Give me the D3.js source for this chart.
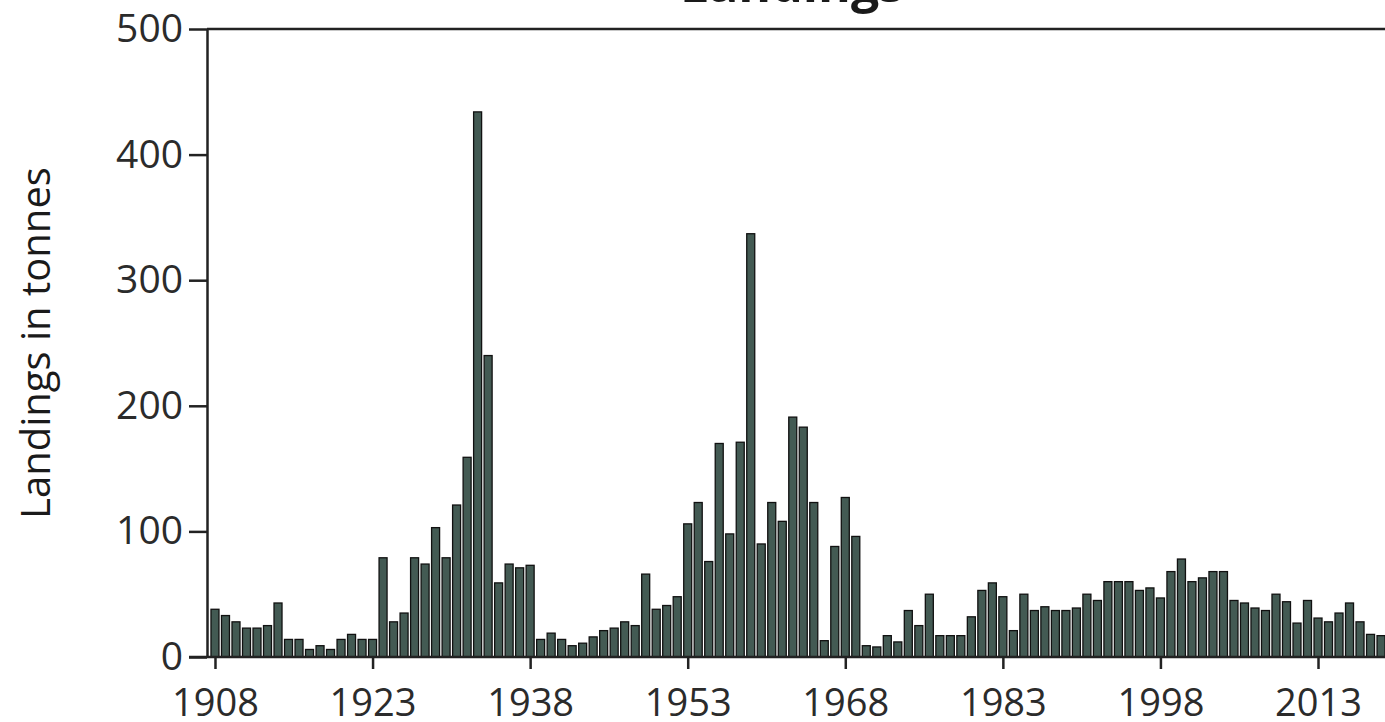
<!DOCTYPE html>
<html>
<head>
<meta charset="utf-8">
<script src="https://cdn.jsdelivr.net/npm/d3@7"></script>
<style>
  body { margin: 0; background: #fff; }
  svg { display: block; }
  .axis path, .axis line { stroke: #222; stroke-width: 2.5; }
  .axis text { fill: #2b2b2b; font-family: "Open Sans", sans-serif; }
</style>
</head>
<body>
<svg id="chart" width="1385" height="722"></svg>
<script>
// landings per year, tonnes
const years = d3.range(1908, 2020);
const landings = [
  38, 33, 28, 23, 23, 25, 43, 14, 14, 6,      // 1908-1917
  9, 6, 14, 18, 14, 14, 79, 28, 35, 79,       // 1918-1927
  74, 103, 79, 121, 159, 434, 240, 59, 74, 71, // 1928-1937
  73, 14, 19, 14, 9, 11, 16, 21, 23, 28,      // 1938-1947
  25, 66, 38, 41, 48, 106, 123, 76, 170, 98,  // 1948-1957
  171, 337, 90, 123, 108, 191, 183, 123, 13, 88, // 1958-1967
  127, 96, 9, 8, 17, 12, 37, 25, 50, 17,      // 1968-1977
  17, 17, 32, 53, 59, 48, 21, 50, 37, 40,     // 1978-1987
  37, 37, 39, 50, 45, 60, 60, 60, 53, 55,     // 1988-1997
  47, 68, 78, 60, 63, 68, 68, 45, 43, 39,     // 1998-2007
  37, 50, 44, 27, 45, 31, 28, 35, 43, 28,     // 2008-2017
  18, 17                                      // 2018-2019
];
const yTicks = [0, 100, 200, 300, 400, 500];
const xTicks = [1908, 1923, 1938, 1953, 1968, 1983, 1998, 2013];
const titleText = "Landings";
const yLabel = "Landings in tonnes";

const svg = d3.select('#chart');
const plotLeft = 207, plotTop = 29, plotBottom = 657;
const pxPerYear = 10.505;
const x0 = 1907.24, x1 = 2021;

const x = d3.scaleLinear().domain([x0, x1])
  .range([plotLeft, plotLeft + (x1 - x0) * pxPerYear]);
const y = d3.scaleLinear().domain([0, 500]).range([plotBottom, plotTop]);

// frame top line
svg.append('line')
  .attr('x1', plotLeft).attr('x2', x.range()[1])
  .attr('y1', plotTop).attr('y2', plotTop)
  .attr('stroke', '#222').attr('stroke-width', 2.5);

// bars
const barW = 8;
svg.append('g').selectAll('rect')
  .data(years)
  .enter()
  .append('rect')
  .attr('x', (d) => x(d) - barW / 2)
  .attr('width', barW)
  .attr('y', (d, i) => y(landings[i]))
  .attr('height', (d, i) => y(0) - y(landings[i]))
  .attr('fill', '#435a53')
  .attr('stroke', '#111')
  .attr('stroke-width', 1.3);

// y axis
const yAxis = svg.append('g')
  .attr('class', 'axis')
  .attr('transform', 'translate(' + plotLeft + ',0)')
  .call(d3.axisLeft(y).tickValues(yTicks).tickSize(18).tickPadding(6).tickSizeOuter(0));
yAxis.selectAll('text').style('font-size', '39px');

// x axis
const xAxis = svg.append('g')
  .attr('class', 'axis')
  .attr('transform', 'translate(0,' + plotBottom + ')')
  .call(d3.axisBottom(x).tickValues(xTicks).tickFormat(d3.format('d')).tickSize(12).tickSizeOuter(0));
xAxis.select('.domain').attr('d', 'M' + (plotLeft - 18) + ',0H' + x.range()[1]);
xAxis.selectAll('text')
  .style('font-size', '38px')
  .attr('y', 59).attr('dy', 0);

// title (mostly cut off at the top)
svg.append('text')
  .attr('x', 792).attr('y', 2)
  .attr('text-anchor', 'middle')
  .style('font-family', '"Open Sans", sans-serif')
  .style('font-weight', 'bold')
  .style('font-size', '50px')
  .attr('fill', '#1a1a1a')
  .text(titleText);

// y label
svg.append('text')
  .attr('transform', 'translate(50,' + (plotTop + plotBottom) / 2 + ') rotate(-90)')
  .attr('text-anchor', 'middle')
  .style('font-family', '"Open Sans", sans-serif')
  .style('font-size', '40px')
  .attr('fill', '#1a1a1a')
  .text(yLabel);
</script>
</body>
</html>
